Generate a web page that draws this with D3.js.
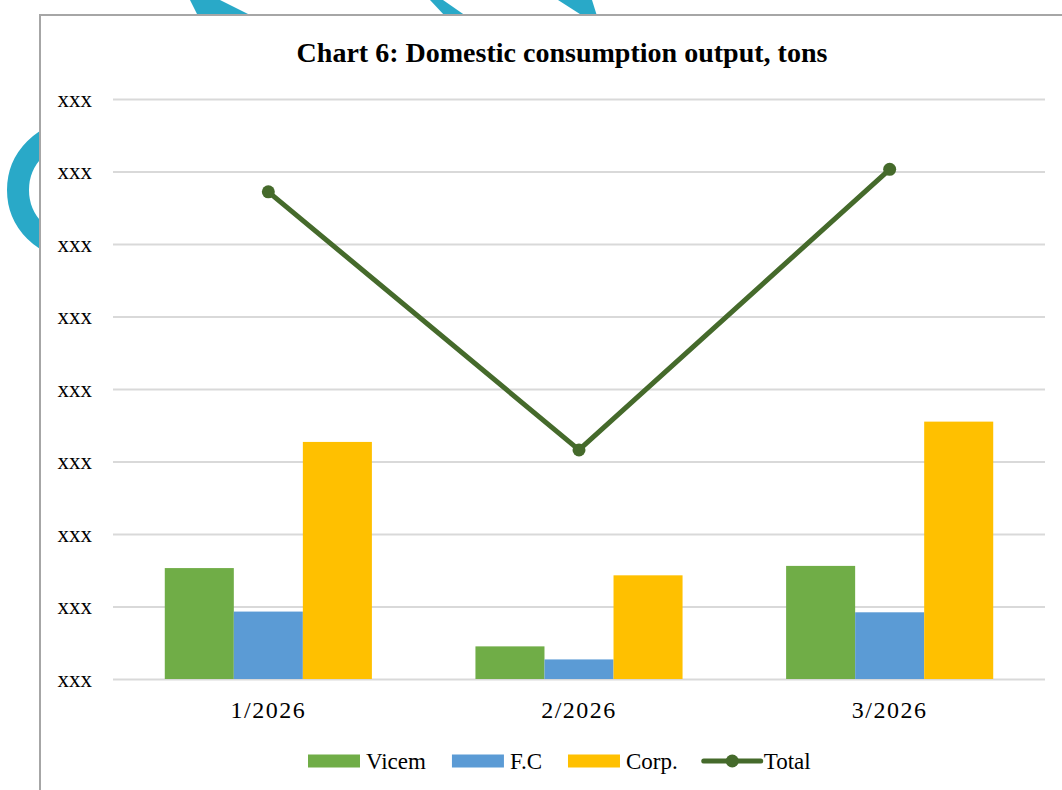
<!DOCTYPE html>
<html>
<head>
<meta charset="utf-8">
<script src="https://cdn.jsdelivr.net/npm/d3@7"></script>
<style>
  html, body { margin: 0; padding: 0; background: #fff; }
  svg { display: block; }
</style>
</head>
<body>
<svg id="chart" width="1062" height="790"></svg>
<script>
// ---- data ----
const categories = ["1/2026", "2/2026", "3/2026"];
const seriesNames = ["Vicem", "F.C", "Corp."];
const vicem = [1.53, 0.45, 1.56];
const fc    = [0.93, 0.27, 0.92];
const corp  = [3.27, 1.43, 3.55];
const total = [6.72, 3.16, 7.03];
const lineName = "Total";
const yTicks = [0, 1, 2, 3, 4, 5, 6, 7, 8];
const yTickLabels = ["xxx", "xxx", "xxx", "xxx", "xxx", "xxx", "xxx", "xxx", "xxx"];
const title = "Chart 6: Domestic consumption output, tons";

const colors = { "Vicem": "#70ad47", "F.C": "#5b9bd5", "Corp.": "#ffc000", "Total": "#456a2b" };
const barSeries = [vicem, fc, corp];

const svg = d3.select("#chart");
const W = 1062, H = 790;
const serif = "'Liberation Serif', 'DejaVu Serif', serif";

// ---- decorative watermark (outside chart box) ----
const cyan = "#29a9c8";
const deco = svg.append("g");
deco.append("circle").attr("cx", 76).attr("cy", 190).attr("r", 58)
  .attr("fill", "none").attr("stroke", cyan).attr("stroke-width", 22);
deco.append("polygon").attr("points", "190,0 220,0 252,16 198,16").attr("fill", cyan);
deco.append("polygon").attr("points", "430,0 443,0 466,16 445,16").attr("fill", cyan);
deco.append("polygon").attr("points", "558,0 592,0 597,16 583,16").attr("fill", cyan);

// ---- chart box ----
const box = { x: 40, y: 15 };
svg.append("rect").attr("x", box.x).attr("y", box.y)
  .attr("width", W - box.x + 5).attr("height", H - box.y + 5)
  .attr("fill", "#fff");
svg.append("path")
  .attr("d", `M${box.x},${H + 2} L${box.x},${box.y} L${W + 2},${box.y}`)
  .attr("fill", "none").attr("stroke", "#a6a6a6").attr("stroke-width", 2);

// ---- scales ----
const plot = { left: 113, right: 1045, top: 99, bottom: 679 };
const x0 = d3.scaleBand().domain(categories).range([plot.left, plot.right]).padding(0);
const bw = x0.bandwidth();
const x1 = d3.scaleBand().domain(seriesNames).range([bw / 6, bw * 5 / 6]).padding(0);
const y = d3.scaleLinear().domain([0, 8]).range([plot.bottom, plot.top]);

// ---- gridlines ----
const yAxis = d3.axisLeft(y).tickValues(yTicks)
  .tickSize(-(plot.right - plot.left))
  .tickFormat((d, i) => yTickLabels[i]);
const gy = svg.append("g").attr("transform", `translate(${plot.left},0)`).call(yAxis);
gy.select(".domain").remove();
gy.selectAll(".tick line").attr("stroke", "#d9d9d9").attr("stroke-width", 2);
gy.selectAll(".tick text")
  .attr("x", -21).attr("dy", "0.32em")
  .attr("fill", "#000").attr("font-family", serif).attr("font-size", 23)
  .attr("text-anchor", "end");

// ---- bars ----
const groups = svg.append("g").selectAll("g").data(categories).join("g")
  .attr("transform", d => `translate(${x0(d)},0)`);
groups.selectAll("rect")
  .data((c, ci) => seriesNames.map((s, si) => ({ s, v: barSeries[si][ci] })))
  .join("rect")
  .attr("x", d => x1(d.s))
  .attr("width", x1.bandwidth())
  .attr("y", d => y(d.v))
  .attr("height", d => y(0) - y(d.v))
  .attr("fill", d => colors[d.s]);

// ---- x axis labels ----
const xAxis = d3.axisBottom(x0).tickSize(0).tickPadding(0);
const gx = svg.append("g").attr("transform", `translate(0,${plot.bottom})`).call(xAxis);
gx.select(".domain").remove();
gx.selectAll(".tick text")
  .attr("y", 39).attr("dy", 0)
  .attr("fill", "#000").attr("font-family", serif).attr("font-size", 24)
  .attr("letter-spacing", 1.5);

// ---- total line ----
const lineGen = d3.line()
  .x((d, i) => x0(categories[i]) + bw / 2)
  .y(d => y(d));
svg.append("path").datum(total)
  .attr("d", lineGen)
  .attr("fill", "none").attr("stroke", colors.Total).attr("stroke-width", 5)
  .attr("stroke-linejoin", "round").attr("stroke-linecap", "round");
svg.append("g").selectAll("circle").data(total).join("circle")
  .attr("cx", (d, i) => x0(categories[i]) + bw / 2)
  .attr("cy", d => y(d))
  .attr("r", 6.5)
  .attr("fill", colors.Total);

// ---- title ----
const t = svg.append("text")
  .attr("x", 562).attr("y", 62)
  .attr("text-anchor", "middle")
  .attr("font-family", serif).attr("font-weight", "bold")
  .attr("font-size", 24).attr("fill", "#000")
  .text(title);
const tw = t.node().getComputedTextLength();
t.attr("font-size", 24 * 531 / tw);

// ---- legend ----
const leg = svg.append("g");
let lx = 308;
const ly = 761;
seriesNames.forEach(s => {
  leg.append("rect").attr("x", lx).attr("y", ly - 6.5).attr("width", 52).attr("height", 13)
    .attr("fill", colors[s]);
  const tx = leg.append("text").attr("x", lx + 58).attr("y", ly + 8)
    .attr("font-family", serif).attr("font-size", 23).attr("fill", "#000").text(s);
  lx = lx + 58 + tx.node().getComputedTextLength() + 26;
});
leg.append("line").attr("x1", lx).attr("x2", lx + 57).attr("y1", ly).attr("y2", ly)
  .attr("stroke", colors.Total).attr("stroke-width", 5).attr("stroke-linecap", "round");
leg.append("circle").attr("cx", lx + 28.5).attr("cy", ly).attr("r", 6.5).attr("fill", colors.Total);
leg.append("text").attr("x", lx + 60).attr("y", ly + 8)
  .attr("font-family", serif).attr("font-size", 23).attr("fill", "#000").text(lineName);
</script>
</body>
</html>
